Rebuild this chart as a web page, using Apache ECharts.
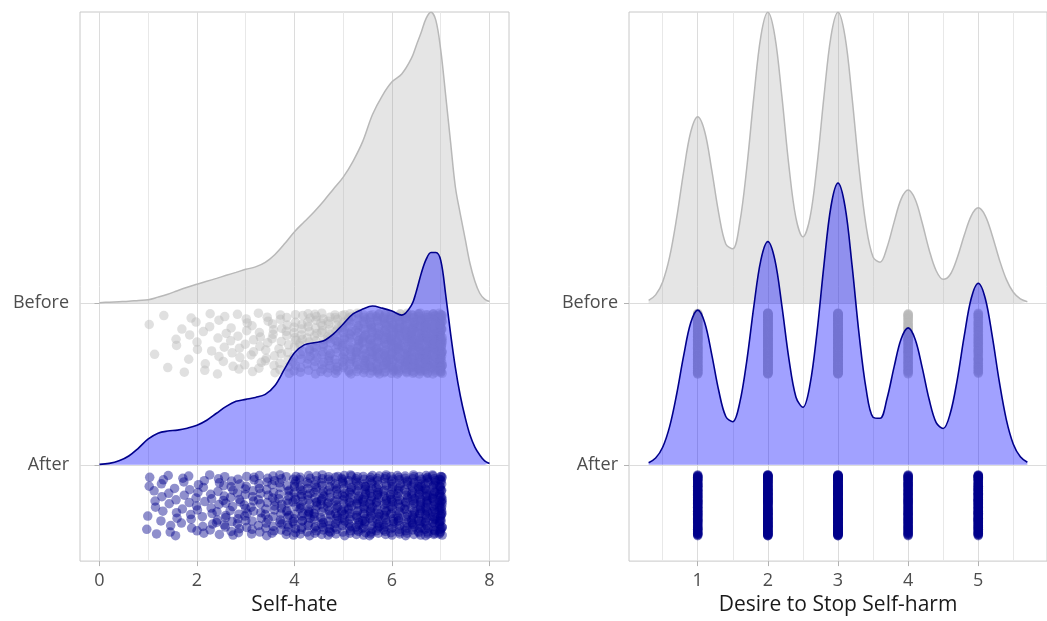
<!DOCTYPE html>
<html><head><meta charset="utf-8">
<script src="https://cdn.jsdelivr.net/npm/echarts@6/dist/echarts.min.js"></script>
<style>html,body{margin:0;padding:0;background:#fff}#c{width:1047px;height:621px}</style>
</head><body><div id="c"></div>
<script>
// ---------- data ----------
const groups = ['After', 'Before']; // ridge baselines at 1 and 2

// Self-hate: density curves (ridge heights, in ridge units)
const selfHateGrid = [0,0.2,0.4,0.6,0.8,1,1.2,1.4,1.6,1.8,2,2.2,2.4,2.6,2.8,3,3.2,3.4,3.6,3.8,4,4.2,4.4,4.6,4.8,5,5.2,5.4,5.6,5.8,6,6.2,6.4,6.5,6.6,6.7,6.8,6.9,7,7.1,7.2,7.3,7.4,7.5,7.6,7.7,7.8,7.9,8];
const selfHateBeforeDensity = [0.003,0.006,0.009,0.012,0.017,0.021,0.037,0.055,0.077,0.098,0.117,0.135,0.153,0.172,0.190,0.209,0.224,0.252,0.301,0.368,0.442,0.503,0.564,0.632,0.706,0.779,0.877,1.000,1.166,1.282,1.368,1.417,1.515,1.595,1.675,1.761,1.798,1.748,1.564,1.288,1.000,0.718,0.552,0.399,0.245,0.135,0.061,0.025,0.010];
const selfHateAfterDensity = [0.003,0.009,0.025,0.055,0.104,0.160,0.196,0.209,0.215,0.227,0.245,0.276,0.319,0.362,0.393,0.405,0.417,0.436,0.491,0.595,0.693,0.742,0.755,0.767,0.810,0.871,0.933,0.963,0.982,0.969,0.951,0.926,0.988,1.074,1.184,1.270,1.313,1.313,1.264,1.055,0.816,0.601,0.429,0.294,0.184,0.110,0.061,0.025,0.009];

// Self-hate: observed scores and how many respondents gave each
const selfHateValues = [1,1.14,1.29,1.43,1.57,1.71,1.86,2,2.14,2.29,2.43,2.57,2.71,2.86,3,3.14,3.29,3.43,3.57,3.71,3.86,4,4.14,4.29,4.43,4.57,4.71,4.86,5,5.14,5.29,5.43,5.57,5.71,5.86,6,6.14,6.29,6.43,6.57,6.71,6.86,7];
const selfHateBeforeCounts = [1,1,1,1,2,2,3, 3,3,3,4,4,4,5, 5,5,6,6,7,8,9, 11,12,13,14,15,16,18, 19,21,23,25,28,30,32, 33,34,36,38,40,43,42, 60];
const selfHateAfterCounts = [4,4,5,5,5,5,6, 6,6,7,8,9,9,10, 10,10,10,11,12,13,15, 17,18,18,18,19,19,20, 21,22,23,24,24,24,24, 23,23,23,25,28,31,32, 45];

// Desire to stop self-harm: density curves
const stopGrid = [0.3,0.4,0.5,0.6,0.7,0.8,0.9,1,1.1,1.2,1.3,1.4,1.5,1.6,1.7,1.8,1.9,2,2.1,2.2,2.3,2.4,2.5,2.6,2.7,2.8,2.9,3,3.1,3.2,3.3,3.4,3.5,3.6,3.7,3.8,3.9,4,4.1,4.2,4.3,4.4,4.5,4.6,4.7,4.8,4.9,5,5.1,5.2,5.3,5.4,5.5,5.6,5.7];
const stopBeforeDensity = [0.017,0.051,0.131,0.287,0.528,0.815,1.058,1.153,1.060,0.822,0.554,0.366,0.336,0.499,0.840,1.275,1.650,1.798,1.650,1.278,0.849,0.527,0.410,0.527,0.849,1.278,1.650,1.798,1.649,1.274,0.833,0.479,0.285,0.253,0.346,0.501,0.643,0.699,0.642,0.497,0.329,0.200,0.147,0.177,0.280,0.419,0.540,0.589,0.540,0.417,0.270,0.147,0.067,0.026,0.009];
const stopAfterDensity = [0.013,0.042,0.109,0.238,0.438,0.677,0.878,0.957,0.879,0.682,0.458,0.299,0.267,0.386,0.645,0.980,1.266,1.380,1.267,0.983,0.656,0.420,0.356,0.494,0.818,1.237,1.599,1.742,1.598,1.235,0.810,0.471,0.295,0.288,0.412,0.606,0.778,0.847,0.777,0.603,0.404,0.261,0.225,0.317,0.526,0.797,1.030,1.123,1.029,0.794,0.514,0.280,0.128,0.050,0.016];

// Desire to stop self-harm: answers and counts
const stopValues = [1,2,3,4,5];
const stopBeforeCounts = [134,208,208,81,68];
const stopAfterCounts = [111,160,202,98,130];

// jitter offsets (fractions of the jitter band)
const jitterY = [0.62,-0.35,0.91,-0.78,0.14,-0.06,0.47,-0.93,0.28,0.83,-0.51,-0.19,0.70,0.05,-0.66,0.39,-0.87,0.97,-0.24,0.55,-0.42,0.18,-0.99,0.76,-0.12,0.33,-0.58,0.88,-0.30,0.09,-0.74,0.51,-0.45,0.95,-0.15,0.24,-0.83,0.67,-0.02,0.42,-0.69,0.80,-0.37,0.12,-0.91,0.58,-0.27,0.36,-0.61,0.99,-0.09,0.21,-0.80,0.73,-0.48,0.03,-0.56,0.86,-0.21,0.45,-0.95,0.30,-0.40,0.64,-0.71,0.16,-0.33,0.93,-0.64,0.07,-0.85,0.49,-0.17,0.79,-0.53,0.26,-0.97,0.60,-0.04,0.40,-0.76,0.85,-0.29,0.11,-0.89,0.69,-0.44,0.19,-0.60,0.94,-0.11,0.35,-0.72,0.53,-0.26,0.01,-0.50];
const jitterX = [0.4,-0.2,0.6,-0.6,0.0,0.2,-0.4,0.6,-0.2,0.4,-0.6,0.2,-0.4,0.0,0.6,-0.2,0.4,-0.4,0.2,-0.6,0.4,0.0,-0.2];

const selfHateTicks = [0,2,4,6,8];
const selfHateGridLines = [0,1,2,3,4,5,6,7,8];
const stopTicks = [1,2,3,4,5];
const stopGridLines = [0.5,1,1.5,2,2.5,3,3.5,4,4.5,5,5.5];

// ---------- helpers ----------
const FONT = 'Open Sans';
const BAND_OFFSET = 0.25, BAND_HALF = 0.19, XJIT = 0.05;
function ridge(grid, dens, base) { return grid.map((x, i) => [x, base + dens[i]]); }
function rain(values, counts, base, xj) {
  const pts = []; let k = 0;
  values.forEach((v, i) => {
    for (let n = 0; n < counts[i]; n++) {
      pts.push([v + (xj ? jitterX[k % jitterX.length] * XJIT : 0),
                base - BAND_OFFSET + jitterY[k % jitterY.length] * BAND_HALF]);
      k++;
    }
  });
  return pts;
}
function gridLineSeries(idx, xs, majors) {
  return {
    type: 'line', xAxisIndex: idx, yAxisIndex: idx, data: [], z: 0, silent: true,
    markLine: {
      silent: true, symbol: 'none', animation: false, label: {show: false}, z: 0,
      data: xs.map(x => ({xAxis: x, lineStyle: {color: majors.includes(x) ? '#dcdcdc' : '#e8e8e8', width: 1, type: 'solid'}}))
        .concat([1, 2].map(y => ({yAxis: y, lineStyle: {color: '#dcdcdc', width: 1, type: 'solid'}})))
    }
  };
}
const grayLine = '#b8b8b8', grayFill = 'rgba(150,150,150,0.25)';
const blueLine = '#00008B', blueFill = 'rgba(0,0,255,0.37)';
const grayPt = 'rgba(185,185,185,0.55)', bluePt = 'rgba(0,0,139,0.55)';

function panelSeries(idx, grid, before, after, values, cb, ca, xj) {
  return [
    gridLineSeries(idx, idx === 0 ? selfHateGridLines : stopGridLines, idx === 0 ? selfHateTicks : stopTicks),
    {type: 'line', xAxisIndex: idx, yAxisIndex: idx, data: ridge(grid, before, 2), smooth: 0.35, symbol: 'none',
     lineStyle: {color: grayLine, width: 1.5}, areaStyle: {color: grayFill, origin: 2, opacity: 1}, z: 2},
    {type: 'scatter', xAxisIndex: idx, yAxisIndex: idx, data: rain(values, cb, 2, xj), symbolSize: 9.5,
     itemStyle: {color: grayPt}, z: 3},
    {type: 'line', xAxisIndex: idx, yAxisIndex: idx, data: ridge(grid, after, 1), smooth: 0.35, symbol: 'none',
     lineStyle: {color: blueLine, width: 1.6}, areaStyle: {color: blueFill, origin: 1, opacity: 1}, z: 4},
    {type: 'scatter', xAxisIndex: idx, yAxisIndex: idx, data: rain(values, ca, 1, xj), symbolSize: 9.5,
     itemStyle: {color: bluePt}, z: 5}
  ];
}

function yAxis(idx) {
  return {
    gridIndex: idx, type: 'value', min: 0.405, max: 3.8,
    splitLine: {show: false}, axisLine: {show: false},
    axisTick: {show: true, customValues: [1, 2], length: 5, lineStyle: {color: '#b3b3b3'}},
    axisLabel: {customValues: [1, 2], formatter: v => groups[Math.round(v) - 1], fontSize: 18, color: '#4d4d4d', fontFamily: FONT, margin: 11}
  };
}
function xAxis(idx, min, max, ticks, name) {
  return {
    gridIndex: idx, type: 'value', min: min, max: max,
    splitLine: {show: false}, axisLine: {show: false},
    axisTick: {show: true, customValues: ticks, length: 5, lineStyle: {color: '#b3b3b3'}},
    axisLabel: {customValues: ticks, fontSize: 18, color: '#4d4d4d', fontFamily: FONT, margin: 11},
    name: name, nameLocation: 'middle', nameGap: 33,
    nameTextStyle: {fontSize: 21, color: '#1a1a1a', fontFamily: FONT}
  };
}

const chart = echarts.init(document.getElementById('c'), null, {renderer: 'canvas'});
chart.setOption({
  animation: false,
  backgroundColor: '#ffffff',
  grid: [
    {left: 80, top: 12, width: 429, bottom: 56, show: true, borderColor: '#c8c8c8', borderWidth: 1, backgroundColor: 'transparent'},
    {left: 629, top: 12, width: 429, bottom: 56, show: true, borderColor: '#c8c8c8', borderWidth: 1, backgroundColor: 'transparent'}
  ],
  xAxis: [xAxis(0, -0.4, 8.4, selfHateTicks, 'Self-hate'), xAxis(1, 0.02, 5.98, stopTicks, 'Desire to Stop Self-harm')],
  yAxis: [yAxis(0), yAxis(1)],
  series: panelSeries(0, selfHateGrid, selfHateBeforeDensity, selfHateAfterDensity, selfHateValues, selfHateBeforeCounts, selfHateAfterCounts, true)
    .concat(panelSeries(1, stopGrid, stopBeforeDensity, stopAfterDensity, stopValues, stopBeforeCounts, stopAfterCounts, false))
});
</script></body></html>
